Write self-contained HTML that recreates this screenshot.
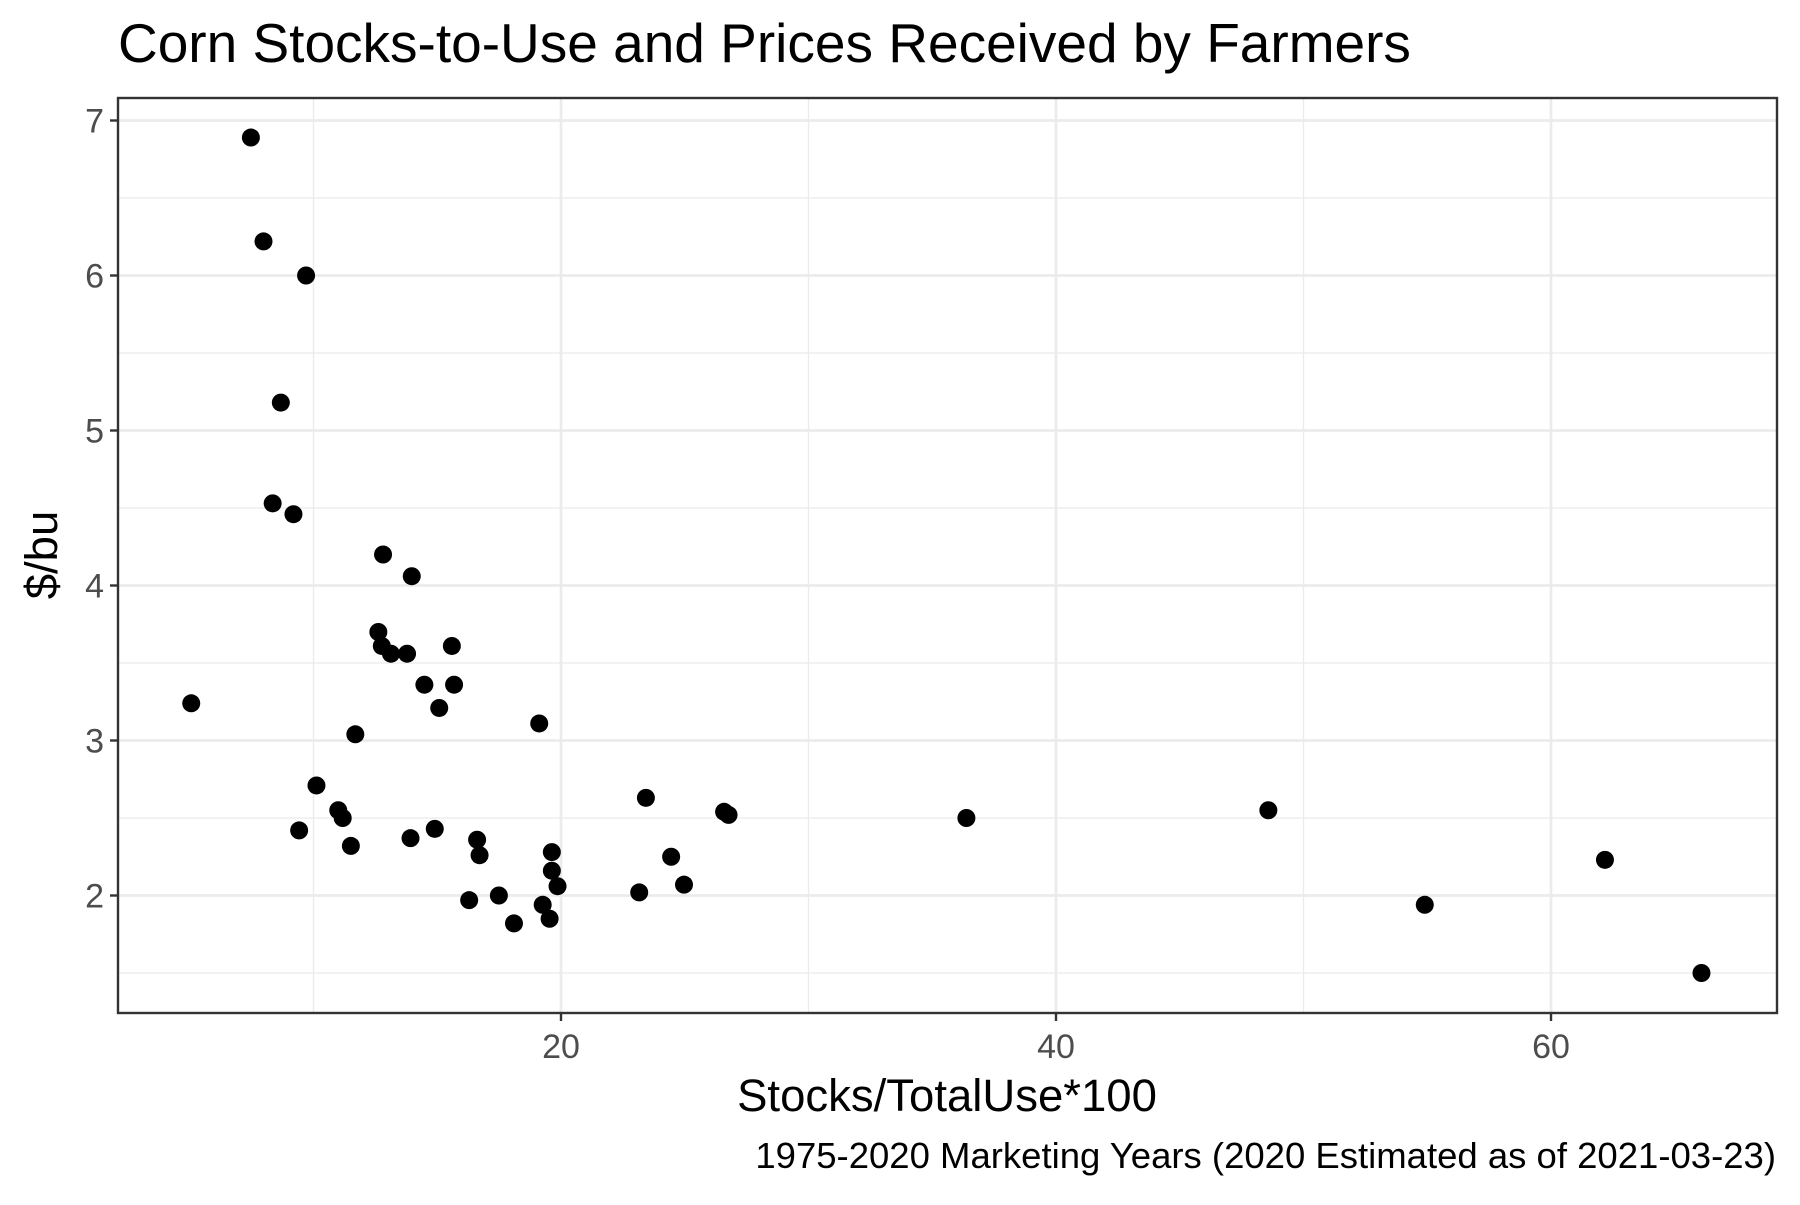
<!DOCTYPE html>
<html><head><meta charset="utf-8"><style>
html,body{margin:0;padding:0;background:#fff;}
svg text{font-family:"Liberation Sans",Arial,sans-serif;}
</style></head><body>
<svg id="chart" width="1800" height="1200" viewBox="0 0 1800 1200" xmlns="http://www.w3.org/2000/svg">
<rect width="1800" height="1200" fill="#fff"/>
<text x="118" y="62" font-size="55" fill="#000">Corn Stocks-to-Use and Prices Received by Farmers</text>
<g id="grid"></g>
<g id="points"></g>
<rect x="118" y="98" width="1659" height="915" fill="none" stroke="#333" stroke-width="2.4"/>
<g id="axes"></g>
<text x="947" y="1111" font-size="45.5" text-anchor="middle" fill="#000">Stocks/TotalUse*100</text>
<text transform="translate(57,555) rotate(-90)" font-size="45.5" text-anchor="middle" fill="#000">$/bu</text>
<text x="1776" y="1168" font-size="36.5" text-anchor="end" fill="#000">1975-2020 Marketing Years (2020 Estimated as of 2021-03-23)</text>
</svg>
<script>
const stocksToUse = [5.06,7.47,7.98,9.70,8.68,8.35,9.19,9.42,10.12,11.0,11.18,11.51,11.69,12.81,12.62,12.76,13.13,13.78,13.97,13.92,14.48,14.90,15.08,15.59,15.68,16.29,16.61,16.71,17.49,18.10,19.12,19.26,19.54,19.63,19.63,19.86,23.16,23.43,24.45,24.97,26.59,26.77,36.38,48.58,54.90,62.18,66.08];
const prices = [3.24,6.89,6.22,6.00,5.18,4.53,4.46,2.42,2.71,2.55,2.50,2.32,3.04,4.20,3.70,3.61,3.56,3.56,4.06,2.37,3.36,2.43,3.21,3.61,3.36,1.97,2.36,2.26,2.00,1.82,3.11,1.94,1.85,2.28,2.16,2.06,2.02,2.63,2.25,2.07,2.54,2.52,2.50,2.55,1.94,2.23,1.50];
const xTicks = [20,40,60];
const xMinor = [10,30,50];
const yTicks = [2,3,4,5,6,7];
const yMinor = [1.5,2.5,3.5,4.5,5.5,6.5];
const NS = "http://www.w3.org/2000/svg";
const L=118,R=1777,T=98,B=1013;
function xs(v){return 561+(v-20)*24.75;}
function ys(v){return 895.5-(v-2)*155;}
function mk(tag,attrs,parent){const e=document.createElementNS(NS,tag);for(const k in attrs)e.setAttribute(k,attrs[k]);parent.appendChild(e);return e;}
const grid=document.getElementById('grid'),pts=document.getElementById('points'),axes=document.getElementById('axes');
xMinor.forEach(v=>{const e=mk('line',{x1:xs(v),x2:xs(v),y1:T,y2:B,stroke:'#ebebeb','stroke-width':1.3},grid);

});
yMinor.forEach(v=>{const e=mk('line',{x1:L,x2:R,y1:ys(v),y2:ys(v),stroke:'#ebebeb','stroke-width':1.3},grid);

});
xTicks.forEach(v=>{const e=mk('line',{x1:xs(v),x2:xs(v),y1:T,y2:B,stroke:'#ebebeb','stroke-width':2.7},grid);


const t=mk('line',{x1:xs(v),x2:xs(v),y1:B,y2:B+8,stroke:'#333','stroke-width':2.4},axes);


const l=mk('text',{x:xs(v),y:B+45,'font-size':34,'text-anchor':'middle',fill:'#4d4d4d'},axes);l.textContent=v;

});
yTicks.forEach(v=>{const e=mk('line',{x1:L,x2:R,y1:ys(v),y2:ys(v),stroke:'#ebebeb','stroke-width':2.7},grid);


const t=mk('line',{x1:L-8,x2:L,y1:ys(v),y2:ys(v),stroke:'#333','stroke-width':2.4},axes);


const l=mk('text',{x:L-14,y:ys(v)+12,'font-size':34,'text-anchor':'end',fill:'#4d4d4d'},axes);l.textContent=v;

});
stocksToUse.forEach((v,i)=>{const c=mk('circle',{cx:xs(v),cy:ys(prices[i]),r:9,fill:'#000'},pts);

});
</script>
</body></html>
